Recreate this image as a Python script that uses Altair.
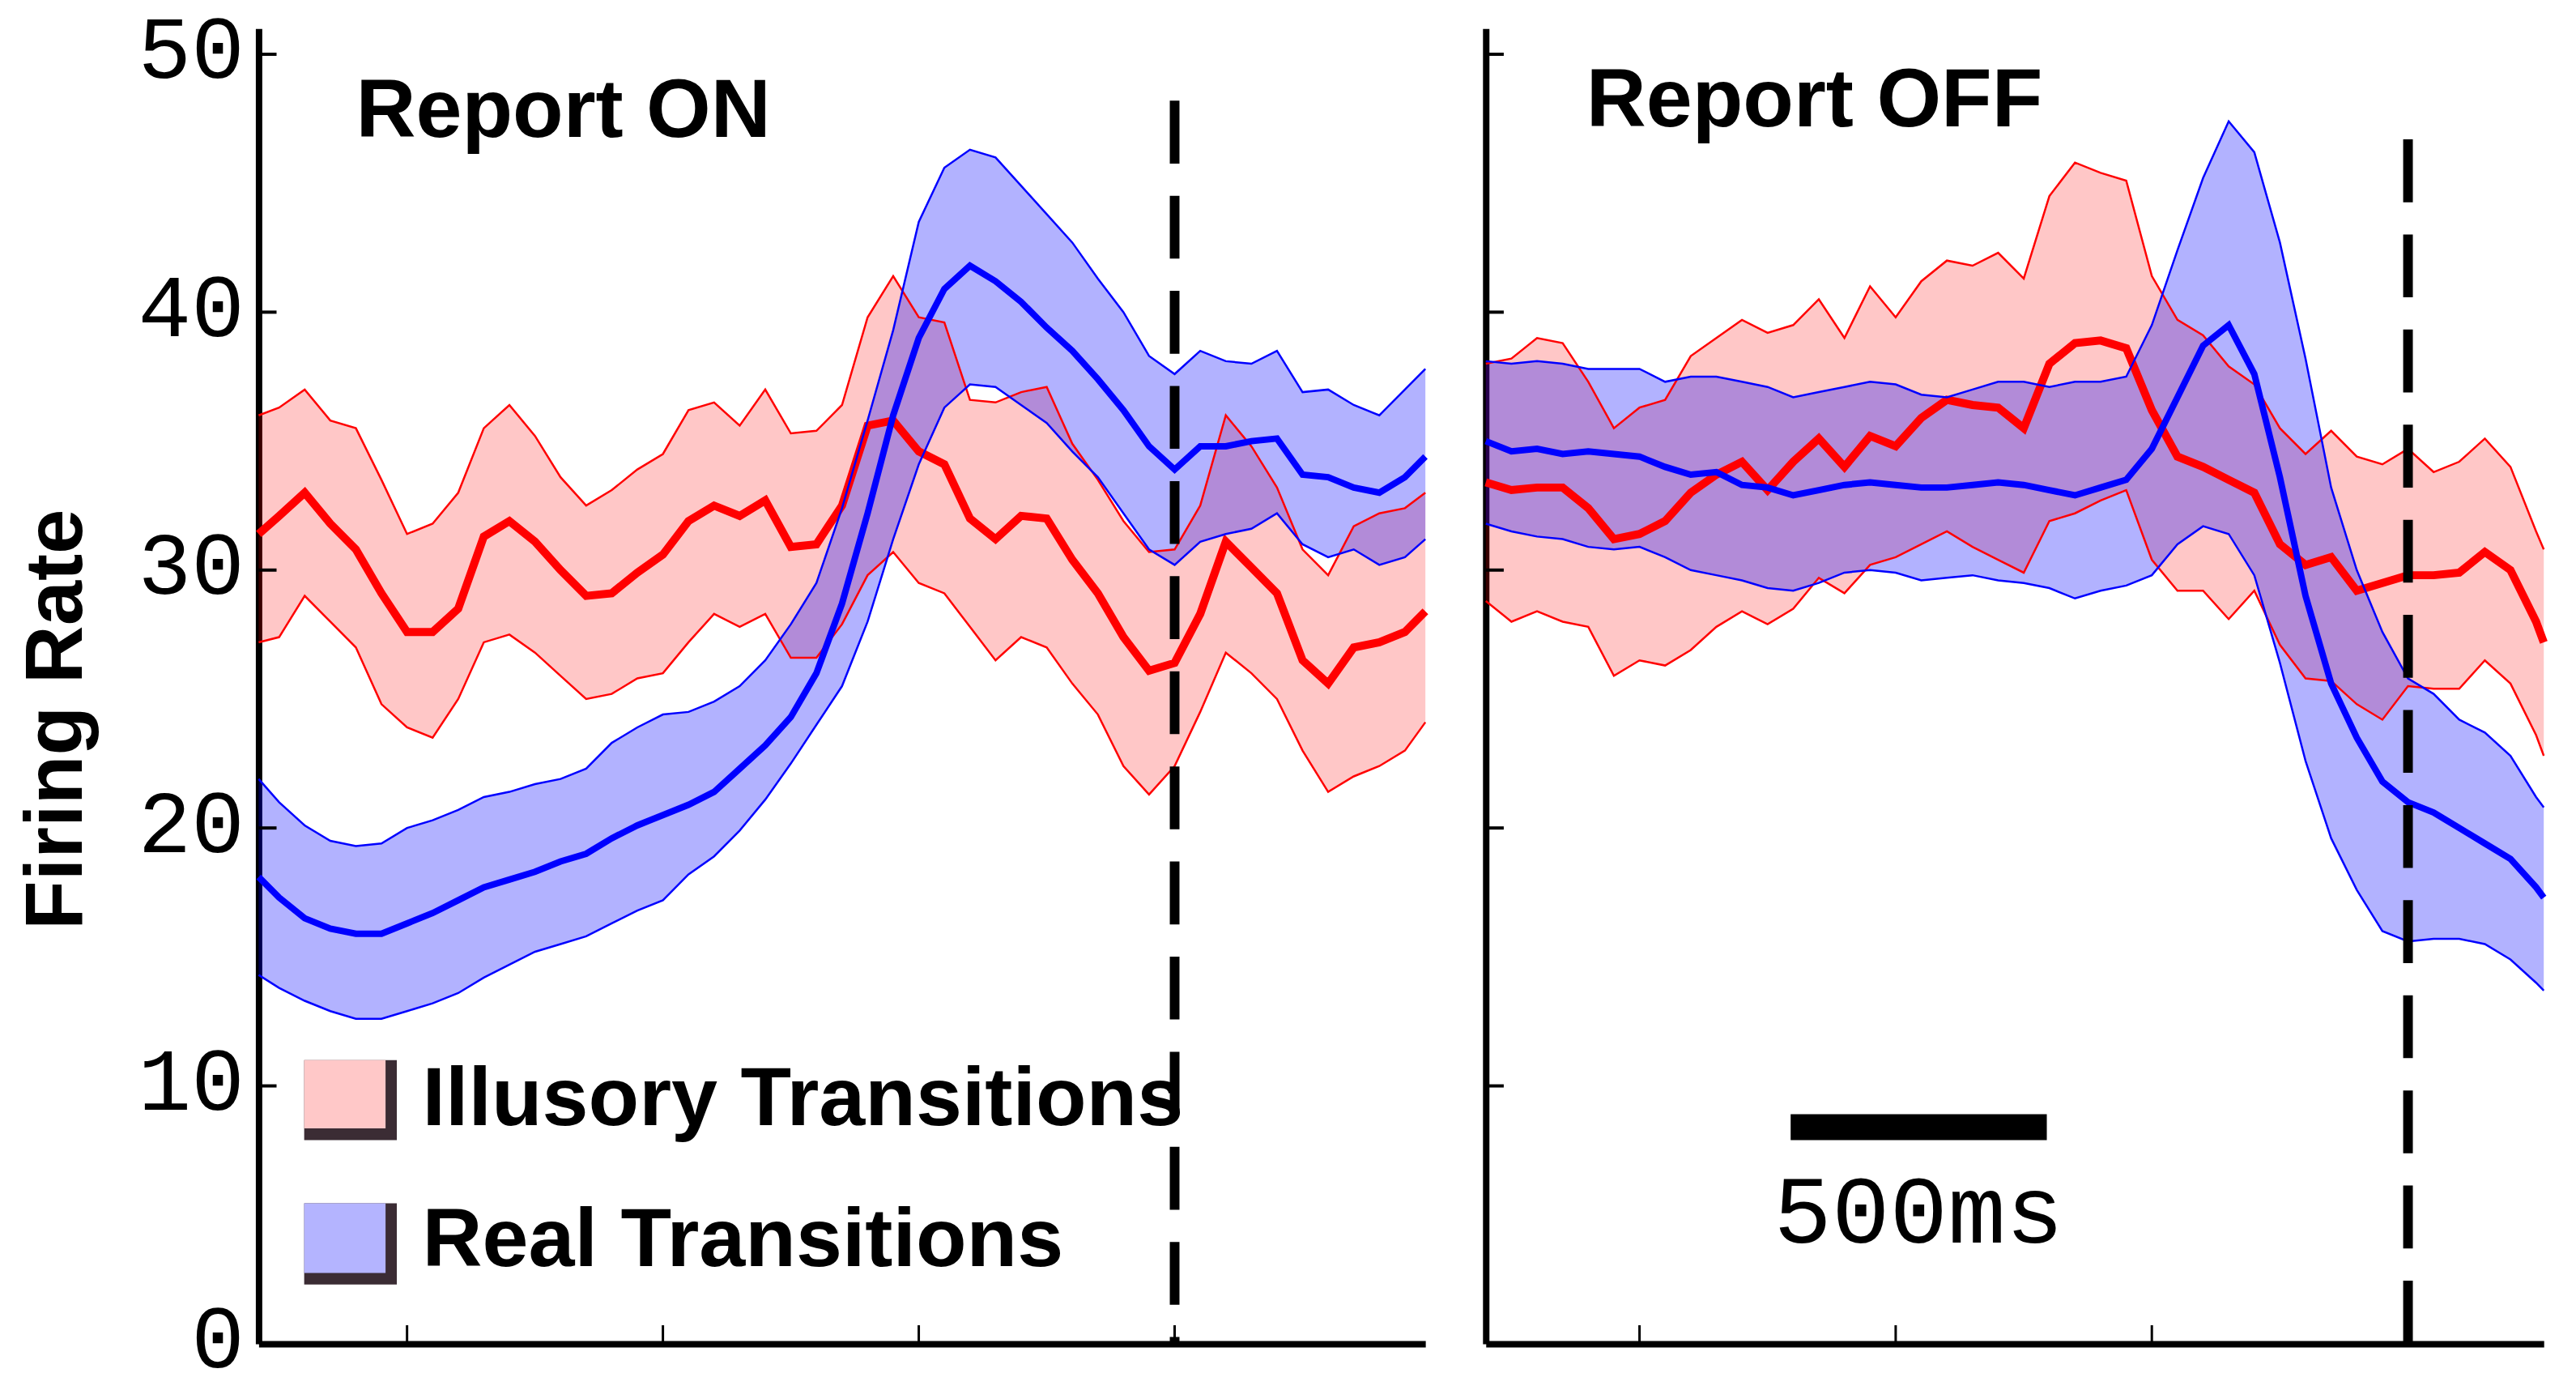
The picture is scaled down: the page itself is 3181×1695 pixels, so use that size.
import altair as alt
import pandas as pd

# ---------------- data ----------------
# time (ms) relative to report / transition (dashed line at 0)
T_ON = [-1790, -1750, -1700, -1650, -1600, -1550, -1500, -1450, -1400, -1350,
        -1300, -1250, -1200, -1150, -1100, -1050, -1000, -950, -900, -850,
        -800, -750, -700, -650, -600, -550, -500, -450, -400, -350,
        -300, -250, -200, -150, -100, -50, 0, 50, 100, 150,
        200, 250, 300, 350, 400, 450, 490]

ON_ILL_UP = [36.0, 36.3, 37.0, 35.8, 35.5, 33.5, 31.4, 31.8, 33.0, 35.5,
             36.4, 35.2, 33.6, 32.5, 33.1, 33.9, 34.5, 36.2, 36.5, 35.6,
             37.0, 35.3, 35.4, 36.4, 39.8, 41.4, 39.8, 39.6, 36.6, 36.5,
             36.9, 37.1, 34.9, 33.5, 31.9, 30.7, 30.8, 32.5, 36.0, 34.8,
             33.2, 30.8, 29.8, 31.7, 32.2, 32.4, 33.0]
ON_ILL_MEAN = [31.4, 32.1, 33.0, 31.8, 30.8, 29.1, 27.6, 27.6, 28.5, 31.3,
               31.9, 31.1, 30.0, 29.0, 29.1, 29.9, 30.6, 31.9, 32.5, 32.1,
               32.7, 30.9, 31.0, 32.5, 35.6, 35.8, 34.6, 34.1, 32.0, 31.2,
               32.1, 32.0, 30.4, 29.1, 27.4, 26.1, 26.4, 28.3, 31.1, 30.1,
               29.1, 26.5, 25.6, 27.0, 27.2, 27.6, 28.4]
ON_ILL_LO = [27.2, 27.4, 29.0, 28.0, 27.0, 24.8, 23.9, 23.5, 25.0, 27.2,
             27.5, 26.8, 25.9, 25.0, 25.2, 25.8, 26.0, 27.2, 28.3, 27.8,
             28.3, 26.6, 26.6, 27.9, 29.8, 30.7, 29.5, 29.1, 27.8, 26.5,
             27.4, 27.0, 25.6, 24.4, 22.4, 21.3, 22.4, 24.5, 26.8, 26.0,
             25.0, 23.0, 21.4, 22.0, 22.4, 23.0, 24.1]
ON_REAL_UP = [21.9, 21.0, 20.1, 19.5, 19.3, 19.4, 20.0, 20.3, 20.7, 21.2,
              21.4, 21.7, 21.9, 22.3, 23.3, 23.9, 24.4, 24.5, 24.9, 25.5,
              26.5, 27.9, 29.5, 32.4, 35.8, 39.3, 43.5, 45.6, 46.3, 46.0,
              44.9, 43.8, 42.7, 41.3, 40.0, 38.3, 37.6, 38.5, 38.1, 38.0,
              38.5, 36.9, 37.0, 36.4, 36.0, 37.0, 37.8]
ON_REAL_MEAN = [18.1, 17.3, 16.5, 16.1, 15.9, 15.9, 16.3, 16.7, 17.2, 17.7,
                18.0, 18.3, 18.7, 19.0, 19.6, 20.1, 20.5, 20.9, 21.4, 22.3,
                23.2, 24.3, 26.0, 28.7, 32.2, 36.0, 39.0, 40.9, 41.8, 41.2,
                40.4, 39.4, 38.5, 37.4, 36.2, 34.8, 33.9, 34.8, 34.8, 35.0,
                35.1, 33.7, 33.6, 33.2, 33.0, 33.6, 34.4]
ON_REAL_LO = [14.3, 13.8, 13.3, 12.9, 12.6, 12.6, 12.9, 13.2, 13.6, 14.2,
              14.7, 15.2, 15.5, 15.8, 16.3, 16.8, 17.2, 18.2, 18.9, 19.9,
              21.1, 22.5, 24.0, 25.5, 28.0, 31.2, 34.1, 36.3, 37.2, 37.1,
              36.4, 35.7, 34.6, 33.6, 32.2, 30.8, 30.2, 31.1, 31.4, 31.6,
              32.2, 31.0, 30.5, 30.8, 30.2, 30.5, 31.2]

T_OFF = [-1800, -1750, -1700, -1650, -1600, -1550, -1500, -1450, -1400, -1350,
         -1300, -1250, -1200, -1150, -1100, -1050, -1000, -950, -900, -850,
         -800, -750, -700, -650, -600, -550, -500, -450, -400, -350,
         -300, -250, -200, -150, -100, -50, 0, 50, 100, 150,
         200, 250, 265]

OFF_ILL_UP = [38.0, 38.2, 39.0, 38.8, 37.3, 35.5, 36.3, 36.6, 38.3, 39.0,
              39.7, 39.2, 39.5, 40.5, 39.0, 41.0, 39.8, 41.2, 42.0, 41.8,
              42.3, 41.3, 44.5, 45.8, 45.4, 45.1, 41.4, 39.7, 39.1, 37.9,
              37.2, 35.5, 34.5, 35.4, 34.4, 34.1, 34.7, 33.8, 34.2, 35.1,
              34.0, 31.5, 30.8]
OFF_ILL_MEAN = [33.4, 33.1, 33.2, 33.2, 32.4, 31.2, 31.4, 31.9, 33.0, 33.7,
                34.2, 33.1, 34.2, 35.1, 34.0, 35.2, 34.8, 35.9, 36.6, 36.4,
                36.3, 35.5, 38.0, 38.8, 38.9, 38.6, 36.2, 34.4, 34.0, 33.5,
                33.0, 31.0, 30.2, 30.5, 29.2, 29.5, 29.8, 29.8, 29.9, 30.7,
                30.0, 28.0, 27.2]
OFF_ILL_LO = [28.8, 28.0, 28.4, 28.0, 27.8, 25.9, 26.5, 26.3, 26.9, 27.8,
              28.4, 27.9, 28.5, 29.7, 29.1, 30.2, 30.5, 31.0, 31.5, 30.9,
              30.4, 29.9, 31.9, 32.2, 32.7, 33.1, 30.4, 29.2, 29.2, 28.1,
              29.2, 27.1, 25.8, 25.7, 24.8, 24.2, 25.5, 25.4, 25.4, 26.5,
              25.6, 23.6, 22.8]
OFF_REAL_UP = [38.1, 38.0, 38.1, 38.0, 37.8, 37.8, 37.8, 37.3, 37.5, 37.5,
               37.3, 37.1, 36.7, 36.9, 37.1, 37.3, 37.2, 36.8, 36.7, 37.0,
               37.3, 37.3, 37.1, 37.3, 37.3, 37.5, 39.5, 42.4, 45.2, 47.4,
               46.2, 42.7, 38.2, 33.2, 30.0, 27.6, 25.8, 25.2, 24.2, 23.7,
               22.8, 21.2, 20.8]
OFF_REAL_MEAN = [35.0, 34.6, 34.7, 34.5, 34.6, 34.5, 34.4, 34.0, 33.7, 33.8,
                 33.3, 33.2, 32.9, 33.1, 33.3, 33.4, 33.3, 33.2, 33.2, 33.3,
                 33.4, 33.3, 33.1, 32.9, 33.2, 33.5, 34.7, 36.7, 38.7, 39.5,
                 37.6, 33.6, 29.0, 25.6, 23.5, 21.8, 21.0, 20.6, 20.0, 19.4,
                 18.8, 17.7, 17.3]
OFF_REAL_LO = [31.8, 31.5, 31.3, 31.2, 30.9, 30.8, 30.9, 30.5, 30.0, 29.8,
               29.6, 29.3, 29.2, 29.5, 29.9, 30.0, 29.9, 29.6, 29.7, 29.8,
               29.6, 29.5, 29.3, 28.9, 29.2, 29.4, 29.8, 31.0, 31.7, 31.4,
               29.8, 26.4, 22.6, 19.6, 17.6, 16.0, 15.6, 15.7, 15.7, 15.5,
               14.9, 14.0, 13.7]

Y_TICKS = [0, 10, 20, 30, 40, 50]
X_TICKS = [-1500, -1000, -500, 0]
ON_DOMAIN = [-1790, 490]
OFF_DOMAIN = [-1800, 265]
Y_DOMAIN = [0, 51]

LEGEND_LABELS = ["Illusory Transitions", "Real Transitions"]
PANEL_TITLES = ["Report ON", "Report OFF"]
SCALE_BAR_LABEL = "500ms"

RED = "#FF0000"
BLUE = "#0000FF"
BOLD_SIZE = 103

for arr in [ON_ILL_UP, ON_ILL_MEAN, ON_ILL_LO, ON_REAL_UP, ON_REAL_MEAN, ON_REAL_LO]:
    assert len(arr) == len(T_ON)
for arr in [OFF_ILL_UP, OFF_ILL_MEAN, OFF_ILL_LO, OFF_REAL_UP, OFF_REAL_MEAN, OFF_REAL_LO]:
    assert len(arr) == len(T_OFF)


def band_df(t, up, mean, lo):
    return pd.DataFrame({"t": t, "up": up, "mean": mean, "lo": lo})


def panel(t, ill, real, xdom, width, dash_top, title, title_xy, left, extra_layers):
    xs = alt.Scale(domain=xdom, nice=False, zero=False)
    ys = alt.Scale(domain=Y_DOMAIN, nice=False, zero=True)
    xaxis = alt.Axis(values=X_TICKS, labels=False, ticks=False, domain=True,
                     domainColor="black", domainWidth=8, grid=False, title=None)
    if left:
        yaxis = alt.Axis(values=Y_TICKS, labels=True, labelFont="Liberation Mono",
                         labelFontSize=110, labelColor="black", labelPadding=18,
                         labelOffset=-4, labelOverlap=False, ticks=False, tickSize=0,
                         domain=True, domainColor="black", domainWidth=8, grid=False,
                         title="Firing Rate", titleFont="Liberation Sans",
                         titleFontSize=100, titleFontWeight="bold", titleColor="black",
                         titleAngle=270, titleX=-250, titleY=857,
                         titleAlign="center", titleBaseline="middle")
    else:
        yaxis = alt.Axis(values=Y_TICKS, labels=False, ticks=False, tickSize=0,
                         domain=True, domainColor="black", domainWidth=8,
                         grid=False, title=None)

    def X(f="t"):
        return alt.X(f"{f}:Q", scale=xs, axis=xaxis)

    def Y(f):
        return alt.Y(f"{f}:Q", scale=ys, axis=yaxis)

    d_ill = band_df(t, *ill)
    d_real = band_df(t, *real)

    layers = []
    layers.append(alt.Chart(d_ill).mark_area(color=RED, opacity=0.22).encode(
        x=X(), y=Y("lo"), y2="up:Q"))
    layers.append(alt.Chart(d_real).mark_area(color=BLUE, opacity=0.3).encode(
        x=X(), y=Y("lo"), y2="up:Q"))
    for d, c, mw in [(d_ill, RED, 10), (d_real, BLUE, 8)]:
        for f in ["up", "lo"]:
            layers.append(alt.Chart(d).mark_line(color=c, strokeWidth=2.5).encode(
                x=X(), y=Y(f)))
        layers.append(alt.Chart(d).mark_line(color=c, strokeWidth=mw).encode(
            x=X(), y=Y("mean")))

    # dashed event line
    d_dash = pd.DataFrame({"t": [0], "top": [dash_top], "bottom": [0]})
    layers.append(alt.Chart(d_dash).mark_rule(color="black", strokeWidth=12,
                                               strokeDash=[78, 40]).encode(
        x=X(), y=Y("top"), y2="bottom:Q"))

    # inward ticks
    d_xt = pd.DataFrame({"t": X_TICKS, "y0": [0] * len(X_TICKS), "y1": [0.72] * len(X_TICKS)})
    layers.append(alt.Chart(d_xt).mark_rule(color="black", strokeWidth=3).encode(
        x=X(), y=Y("y0"), y2="y1:Q"))
    yt = [v for v in Y_TICKS if v > 0]
    d_yt = pd.DataFrame({"t": [xdom[0]] * len(yt), "t2": [xdom[0] + 35] * len(yt), "y": yt})
    layers.append(alt.Chart(d_yt).mark_rule(color="black", strokeWidth=4).encode(
        x=X(), x2="t2:Q", y=Y("y")))

    # panel title
    d_title = pd.DataFrame({"t": [title_xy[0]], "y": [title_xy[1]], "label": [title]})
    layers.append(alt.Chart(d_title).mark_text(
        align="left", baseline="alphabetic", font="Liberation Sans",
        fontWeight="bold", fontSize=BOLD_SIZE, color="black").encode(
        x=X(), y=Y("y"), text="label:N"))

    layers.extend(extra_layers(X, Y))
    return alt.layer(*layers).properties(width=width, height=1632)


def on_extras(X, Y):
    out = []
    sw = pd.DataFrame({
        "t": [-1701, -1701], "t2": [-1520, -1520],
        "y": [7.9, 2.3], "y2": [11.0, 5.45],
    })
    out.append(alt.Chart(sw).mark_rect(color="#3b2c34").encode(
        x=X(), x2="t2:Q", y=Y("y"), y2="y2:Q"))
    face = pd.DataFrame({
        "t": [-1701, -1701], "t2": [-1542, -1542],
        "y": [8.35, 2.75], "y2": [11.0, 5.45],
        "c": ["#FFC8C8", "#B4B4FF"],
    })
    out.append(alt.Chart(face).mark_rect().encode(
        x=X(), x2="t2:Q", y=Y("y"), y2="y2:Q",
        color=alt.Color("c:N", scale=None)))
    lab = pd.DataFrame({"t": [-1470, -1470], "y": [8.47, 3.0], "label": LEGEND_LABELS})
    out.append(alt.Chart(lab).mark_text(
        align="left", baseline="alphabetic", font="Liberation Sans",
        fontWeight="bold", fontSize=BOLD_SIZE, color="black").encode(
        x=X(), y=Y("y"), text="label:N"))
    return out


def off_extras(X, Y):
    out = []
    bar = pd.DataFrame({"t": [-1205], "t2": [-705], "y": [8.4]})
    out.append(alt.Chart(bar).mark_rule(color="black", strokeWidth=32, strokeCap="butt").encode(
        x=X(), x2="t2:Q", y=Y("y")))
    lab = pd.DataFrame({"t": [-955], "y": [5.06], "label": [SCALE_BAR_LABEL]})
    out.append(alt.Chart(lab).mark_text(
        align="center", baseline="middle", font="Liberation Mono",
        fontSize=120, color="black").encode(
        x=X(), y=Y("y"), text="label:N"))
    return out


left = panel(T_ON, (ON_ILL_UP, ON_ILL_MEAN, ON_ILL_LO),
             (ON_REAL_UP, ON_REAL_MEAN, ON_REAL_LO),
             ON_DOMAIN, 1448, 48.2, PANEL_TITLES[0], (-1600, 46.8), True, on_extras)
right = panel(T_OFF, (OFF_ILL_UP, OFF_ILL_MEAN, OFF_ILL_LO),
              (OFF_REAL_UP, OFF_REAL_MEAN, OFF_REAL_LO),
              OFF_DOMAIN, 1313, 46.7, PANEL_TITLES[1], (-1604, 47.2), False, off_extras)

chart = alt.hconcat(left, right, spacing=75, bounds="flush").properties(
    padding={"left": 21, "top": 4, "right": 20, "bottom": 0},
    background="white",
).configure_view(stroke=None)

chart.save("out.html", embed_options={"renderer": "svg", "actions": False})
